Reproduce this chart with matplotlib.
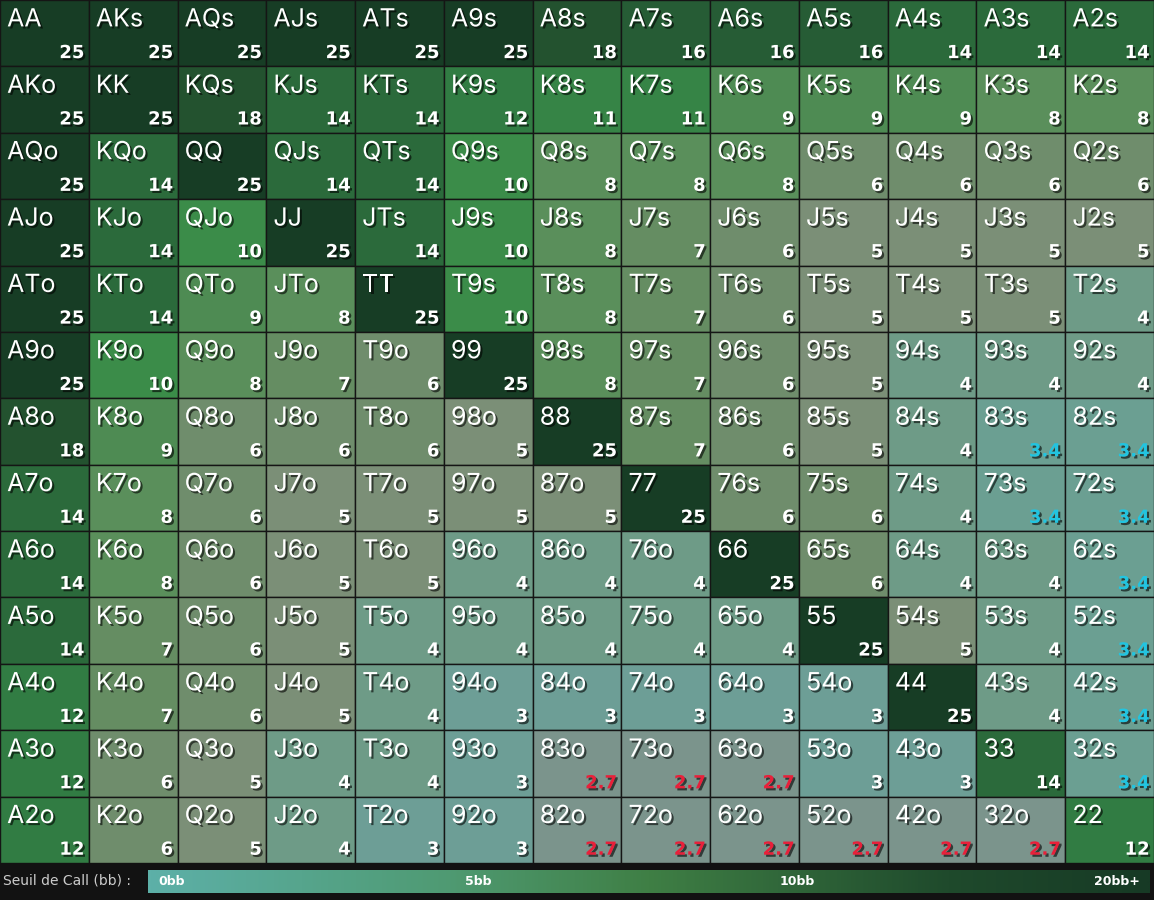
import matplotlib
matplotlib.use("Agg")
import matplotlib.pyplot as plt
import matplotlib.patheffects as pe
from matplotlib.colors import LinearSegmentedColormap
import numpy as np

ranks = ["A","K","Q","J","T","9","8","7","6","5","4","3","2"]
values = [
 [25,25,25,25,25,25,18,16,16,16,14,14,14],
 [25,25,18,14,14,12,11,11,9,9,9,8,8],
 [25,14,25,14,14,10,8,8,8,6,6,6,6],
 [25,14,10,25,14,10,8,7,6,5,5,5,5],
 [25,14,9,8,25,10,8,7,6,5,5,5,4],
 [25,10,8,7,6,25,8,7,6,5,4,4,4],
 [18,9,6,6,6,5,25,7,6,5,4,3.4,3.4],
 [14,8,6,5,5,5,5,25,6,6,4,3.4,3.4],
 [14,8,6,5,5,4,4,4,25,6,4,4,3.4],
 [14,7,6,5,4,4,4,4,4,25,5,4,3.4],
 [12,7,6,5,4,3,3,3,3,3,25,4,3.4],
 [12,6,5,4,4,3,2.7,2.7,2.7,3,3,14,3.4],
 [12,6,5,4,3,3,2.7,2.7,2.7,2.7,2.7,2.7,12],
]
legend_ticks = ["0bb","5bb","10bb","20bb+"]

stops = [(0,"#6d9a92"),(2.7,"#7b948c"),(3,"#6aa198"),(4,"#6e9a86"),(5,"#7b8f77"),
         (6,"#6f8d6c"),(7,"#658d62"),(8,"#598f5b"),(9,"#4e8b53"),(10,"#3b8c49"),
         (12,"#317c43"),(14,"#2b6a3b"),(16,"#265c35"),(18,"#23522f"),(25,"#173d25")]
cmap = LinearSegmentedColormap.from_list("c", [(v/25, c) for v, c in stops])

W, H = 1154, 900
fig = plt.figure(figsize=(W/100, H/100), dpi=100)
fig.patch.set_facecolor("#121212")
ax = fig.add_axes([0, 1-863/900, 1, 863/900])
ax.set_xlim(0, 13); ax.set_ylim(13, 0); ax.axis("off")

sh = [pe.withSimplePatchShadow(offset=(1.5,-1.5), shadow_rgbFace="black", alpha=0.6)]
for i in range(13):
    for j in range(13):
        v = values[i][j]
        if i == j: name = ranks[i]+ranks[j]
        elif j > i: name = ranks[i]+ranks[j]+"s"
        else: name = ranks[j]+ranks[i]+"o"
        ax.add_patch(plt.Rectangle((j, i), 1, 1, facecolor=cmap(v/25), edgecolor="#151515", lw=1.0))
        ax.text(j+0.08, i+0.3, name, color="white", fontsize=18, family="Inter",
                va="center", ha="left", path_effects=sh)
        if v == 3.4: col, s = "#22c4e0", "3.4"
        elif v == 2.7: col, s = "#e8203a", "2.7"
        else: col, s = "white", str(int(v))
        ax.text(j+0.95, i+0.8, s, color=col, fontsize=13, fontweight="bold",
                family="DejaVu Sans", va="center", ha="right", path_effects=sh)

lax = fig.add_axes([148/W, 1-893/900, 1002/W, 23/900])
grad = np.linspace(0, 1, 500)[None, :]
lcm = LinearSegmentedColormap.from_list("l", [(0,"#5db0a8"),(0.3,"#4f9a72"),(0.5,"#3f7f45"),(0.8,"#1f4a2c"),(1,"#173a25")])
lax.imshow(grad, aspect="auto", cmap=lcm, extent=[0,1,0,1])
lax.set_xlim(0,1); lax.set_ylim(0,1); lax.axis("off")
for x, t, ha in [(0.01,legend_ticks[0],"left"),(0.33,legend_ticks[1],"center"),(0.648,legend_ticks[2],"center"),(0.99,legend_ticks[3],"right")]:
    lax.text(x, 0.5, t, color="white", fontsize=9, fontweight="bold", ha=ha, va="center")
fig.text(3/W, 1-881/900, "Seuil de Call (bb) :", color="#cccccc", fontsize=10, va="center", ha="left")
fig.savefig("out.png", dpi=100, facecolor=fig.get_facecolor())
